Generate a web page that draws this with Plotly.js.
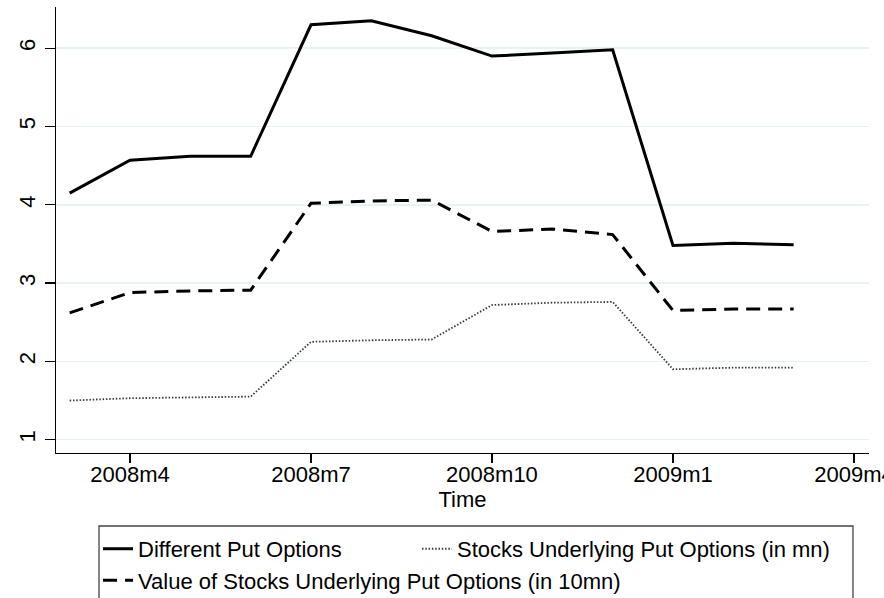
<!DOCTYPE html>
<html>
<head>
<meta charset="utf-8">
<script src="https://cdn.plot.ly/plotly-3.0.1.min.js"></script>
<style>
  html, body { margin: 0; padding: 0; background: #fff; }
  #chart { width: 884px; height: 598px; }
</style>
</head>
<body>
<div id="chart"></div>
<script>
// ---- data ----
var months = ["2008m3","2008m4","2008m5","2008m6","2008m7","2008m8","2008m9",
              "2008m10","2008m11","2008m12","2009m1","2009m2","2009m3"];
var differentPutOptions = [4.15, 4.57, 4.62, 4.62, 6.30, 6.35, 6.16, 5.90, 5.94, 5.98, 3.48, 3.51, 3.49];
var stocksUnderlying    = [1.50, 1.53, 1.54, 1.55, 2.25, 2.27, 2.28, 2.72, 2.75, 2.76, 1.90, 1.92, 1.92];
var valueOfStocks       = [2.62, 2.88, 2.90, 2.91, 4.02, 4.05, 4.06, 3.66, 3.69, 3.62, 2.65, 2.67, 2.67];
var tickLabels = ["2008m4","2008m7","2008m10","2009m1","2009m4"];
var yTicks = [1, 2, 3, 4, 5, 6];

// month label -> index relative to first month
function monthIndex(label) {
  var p = label.split("m");
  var y0 = parseInt(months[0].split("m")[0], 10), m0 = parseInt(months[0].split("m")[1], 10);
  return (parseInt(p[0], 10) - y0) * 12 + (parseInt(p[1], 10) - m0);
}
var xVals = months.map(monthIndex);
var tickVals = tickLabels.map(monthIndex);

var font = "Liberation Sans, Arial, sans-serif";

var traces = [
  {
    x: xVals, y: differentPutOptions, type: "scatter", mode: "lines",
    name: "Different Put Options",
    line: { color: "#000000", width: 3 },
    legend: "legend"
  },
  {
    x: xVals, y: stocksUnderlying, type: "scatter", mode: "lines",
    name: "Stocks Underlying Put Options (in mn)",
    line: { color: "#3a3a3a", width: 1.8, dash: "1.5px,1.8px" },
    legend: "legend2"
  },
  {
    x: xVals, y: valueOfStocks, type: "scatter", mode: "lines",
    name: "Value of Stocks Underlying Put Options (in 10mn)",
    line: { color: "#000000", width: 3, dash: "14px,8px" },
    legend: "legend"
  }
];

var legendFont = { family: font, size: 22, color: "#000000" };

var layout = {
  width: 884, height: 598,
  margin: { l: 56, r: 15, t: 7, b: 145, pad: 0, autoexpand: false },
  paper_bgcolor: "#ffffff",
  plot_bgcolor: "#ffffff",
  font: { family: font, color: "#000000", size: 22 },
  showlegend: true,
  xaxis: {
    range: [-0.2266, 13.249],
    tickmode: "array", tickvals: tickVals, ticktext: tickLabels,
    showgrid: false, zeroline: false,
    showline: true, linecolor: "#000000", linewidth: 1.3,
    ticks: "outside", ticklen: 9, tickwidth: 1.3, tickcolor: "#000000",
    tickfont: { family: font, size: 22, color: "#000000" },
    ticklabelstandoff: -8,
    ticklabeloverflow: "allow",
    title: { text: "Time", font: { family: font, size: 22, color: "#000000" }, standoff: 4 },
    automargin: false
  },
  yaxis: {
    range: [0.830, 6.527],
    tickmode: "array", tickvals: yTicks,
    showgrid: true, gridcolor: "#e8f1f3", gridwidth: 1.6,
    zeroline: false,
    showline: true, linecolor: "#000000", linewidth: 1.3,
    ticks: "outside", ticklen: 10, tickwidth: 1.3, tickcolor: "#000000",
    tickangle: -90,
    ticklabelstandoff: 1,
    ticklabeloverflow: "allow",
    tickfont: { family: font, size: 22, color: "#000000" },
    automargin: false
  },
  legend: {
    orientation: "v",
    x: 0.0517, xanchor: "left",
    y: -0.168, yanchor: "top",
    bgcolor: "rgba(0,0,0,0)", borderwidth: 0,
    font: legendFont,
    traceorder: "normal"
  },
  legend2: {
    orientation: "v",
    x: 0.444, xanchor: "left",
    y: -0.168, yanchor: "top",
    bgcolor: "rgba(0,0,0,0)", borderwidth: 0,
    font: legendFont
  },
  shapes: [
    {
      type: "rect", xref: "paper", yref: "paper",
      x0: 0.0529, x1: 0.9803, y0: -0.1637, y1: -0.335,
      line: { color: "#444444", width: 1.3 },
      fillcolor: "rgba(0,0,0,0)", layer: "below"
    }
  ]
};

Plotly.newPlot("chart", traces, layout, { displayModeBar: false, staticPlot: true });
</script>
</body>
</html>
